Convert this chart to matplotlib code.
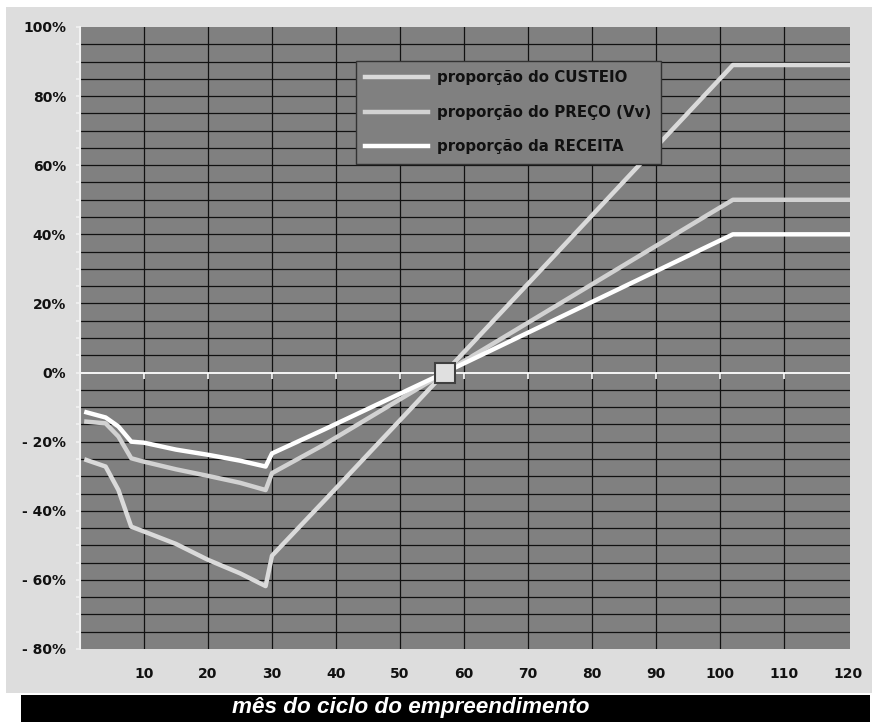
import numpy as np
import matplotlib.pyplot as plt
from matplotlib.patches import Rectangle
from matplotlib.ticker import MultipleLocator

plt.rcParams['font.family'] = ['Liberation Sans', 'DejaVu Sans']

# pontos de quebra das curvas (mês, % )
meses = [1, 4, 6, 8, 10, 15, 20, 25, 29, 30, 38, 57, 102, 120]
custeio = [-25.3, -27.2, -34.0, -44.6, -46.0, -49.6, -54.2, -58.1, -61.8, -53.0, -37.4, 0.0, 89.0, 89.0]
preco = [-14.2, -14.7, -18.5, -24.8, -25.8, -28.0, -29.9, -31.9, -34.0, -29.1, -21.0, 0.0, 50.0, 50.0]
receita = [-11.5, -13.0, -15.6, -20.0, -20.3, -22.3, -23.8, -25.5, -27.2, -23.4, -16.6, 0.0, 40.0, 40.0]

mes_equilibrio = 57

x_ticks = [10, 20, 30, 40, 50, 60, 70, 80, 90, 100, 110, 120]
y_ticks = [-80, -60, -40, -20, 0, 20, 40, 60, 80, 100]
y_labels = ['- 80%', '- 60%', '- 40%', '- 20%', '0%', '20%', '40%', '60%', '80%', '100%']

# fonte larga para os rótulos (texto espaçado)
label_font = {'family': 'DejaVu Sans', 'weight': 'bold', 'size': 10}
legend_font = {'family': 'DejaVu Sans', 'weight': 'bold', 'size': 10.8}

fig = plt.figure(figsize=(8.72, 7.22), dpi=100)
fig.patch.set_facecolor('white')

# moldura cinza clara e faixa do título
fig.add_artist(Rectangle((6 / 872, 1 - 693 / 722), 866 / 872, 686 / 722,
                         transform=fig.transFigure, facecolor='#dddddd', edgecolor='none', zorder=0))
fig.add_artist(Rectangle((21 / 872, 0), 849 / 872, 27 / 722,
                         transform=fig.transFigure, facecolor='black', edgecolor='none', zorder=0))
fig.text(411 / 872, 1 - 708 / 722, 'mês do ciclo do empreendimento', color='white',
         fontsize=16.2, fontweight='bold', fontstyle='italic', ha='center', va='center')

ax = fig.add_axes([80 / 872, 1 - 649 / 722, 770 / 872, 622 / 722])
ax.set_facecolor('#808080')
ax.set_xlim(0, 120.3)
ax.set_ylim(-80, 100)

# grade
ax.yaxis.set_minor_locator(MultipleLocator(5))
ax.set_yticks(y_ticks)
ax.set_yticklabels(y_labels, fontdict=label_font)
ax.set_xticks(x_ticks)
ax.set_xticklabels([str(v) for v in x_ticks], fontdict=label_font)
for yv in np.arange(-75, 100, 5):
    if yv != 0:
        ax.axhline(yv, color='#111111', lw=0.9, zorder=1)
for xv in x_ticks[:-1]:
    ax.axvline(xv, color='#111111', lw=0.9, zorder=1)
ax.axhline(0, color='white', lw=1.3, zorder=2)
ax.plot(x_ticks[:-1], [0] * len(x_ticks[:-1]), ls='none', marker=3, ms=4,
        mew=1.2, color='white', zorder=2)

for side in ['top', 'right', 'bottom']:
    ax.spines[side].set_visible(False)
ax.spines['left'].set_color('#f2f2f2')
ax.spines['left'].set_linewidth(1.5)

ax.tick_params(axis='y', which='both', colors='#f2f2f2', length=3, width=1.2,
               labelcolor='#111111', pad=7)
ax.tick_params(axis='x', length=0, labelcolor='#111111', pad=13)

ax.plot(meses, custeio, color='#dadada', lw=3.2, solid_joinstyle='round',
        label='proporção do CUSTEIO', zorder=3)
ax.plot(meses, preco, color='#d2d2d2', lw=3.2, solid_joinstyle='round',
        label='proporção do PREÇO (Vv)', zorder=3)
ax.plot(meses, receita, color='white', lw=3.2, solid_joinstyle='round',
        label='proporção da RECEITA', zorder=4)
ax.plot([mes_equilibrio], [0], marker='s', ms=14.5, mfc='#e0e0e0', mec='#404040',
        mew=1.5, ls='none', zorder=5)

leg = ax.legend(loc='upper left', bbox_to_anchor=(0.358, 0.946), borderaxespad=0,
                fancybox=False, framealpha=1, facecolor='#808080', edgecolor='#333333',
                prop=legend_font, handlelength=4.2, handletextpad=0.6,
                labelspacing=1.3, borderpad=0.65)
leg.get_frame().set_linewidth(1.0)
for t in leg.get_texts():
    t.set_color('#111111')

fig.savefig('out.png', dpi=100)
